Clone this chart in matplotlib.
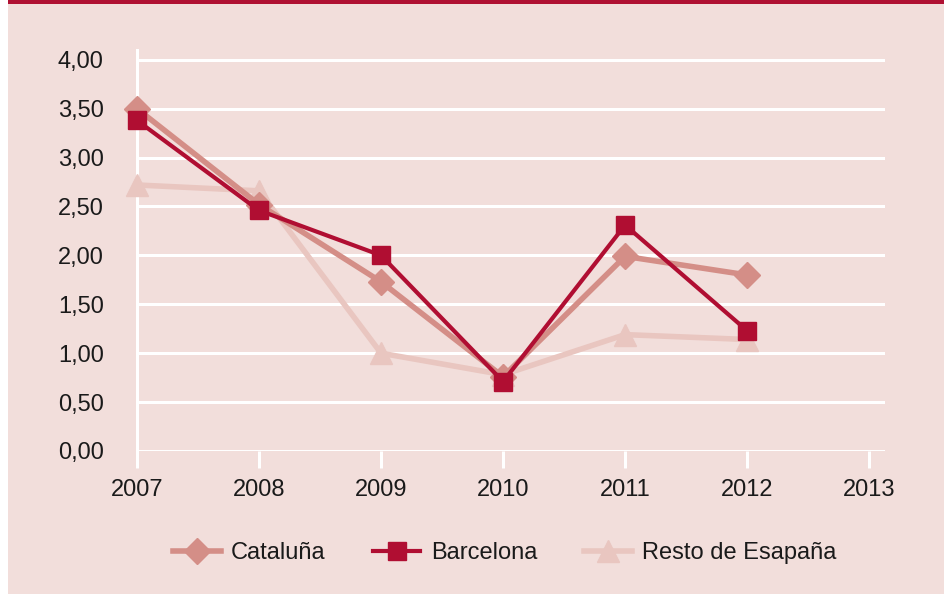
import matplotlib
matplotlib.use('Agg')
import matplotlib.pyplot as plt
from matplotlib.patches import Rectangle

years = [2007, 2008, 2009, 2010, 2011, 2012]
cataluna = [3.50, 2.52, 1.73, 0.76, 1.99, 1.80]
barcelona = [3.38, 2.46, 2.00, 0.71, 2.31, 1.23]
resto = [2.72, 2.66, 1.00, 0.78, 1.19, 1.14]
xticks = [2007, 2008, 2009, 2010, 2011, 2012, 2013]
yticks = [0, 0.5, 1.0, 1.5, 2.0, 2.5, 3.0, 3.5, 4.0]

plt.rcParams['font.family'] = ['Liberation Sans', 'DejaVu Sans']

BG = '#f2dedb'
fig = plt.figure(figsize=(9.44, 5.94), dpi=100)
fig.patch.set_facecolor('white')
# pink panel + red top bar
fig.patches.append(Rectangle((8 / 944, 0), 1, 1, transform=fig.transFigure, facecolor=BG, edgecolor='none', zorder=-2))
fig.patches.append(Rectangle((8 / 944, 1 - 4 / 594), 1, 4 / 594, transform=fig.transFigure, facecolor='#b01032', edgecolor='none', zorder=-1))

ax = fig.add_axes([137 / 944, 143 / 594, 748 / 944, 401 / 594])
ax.set_facecolor('none')

ax.plot(years, resto, color='#e9c6c0', lw=4, marker='^', ms=16, clip_on=False, zorder=3, label='Resto de Esapaña')
ax.plot(years, cataluna, color='#d48e87', lw=4, marker='D', ms=13, clip_on=False, zorder=4, label='Cataluña')
ax.plot(years, barcelona, color='#b00e32', lw=3, marker='s', ms=13, clip_on=False, zorder=5, label='Barcelona')

ax.set_xlim(2007, 2013.13)
ax.set_ylim(0, 4.1)
ax.set_yticks(yticks)
ax.set_yticklabels([('%.2f' % v).replace('.', ',') for v in yticks])
ax.set_xticks(xticks)
ax.set_xticklabels([str(x) for x in xticks])

for v in yticks:
    ax.axhline(v, color='white', lw=2.2, zorder=1)
for s in ['top', 'right', 'bottom']:
    ax.spines[s].set_visible(False)
ax.spines['left'].set_color('white')
ax.spines['left'].set_linewidth(2.2)
ax.tick_params(axis='y', length=0, pad=24, labelsize=17, labelcolor='#1a1a1a')
ax.tick_params(axis='x', length=12, width=2.2, color='white', pad=8, labelsize=17, labelcolor='#1a1a1a')

handles, labels = ax.get_legend_handles_labels()
order = [1, 2, 0]
leg = fig.legend([handles[i] for i in order], [labels[i] for i in order],
                 loc='center', bbox_to_anchor=(505 / 944, 1 - 553 / 594), ncol=3, frameon=False,
                 fontsize=17, handlelength=2.0, columnspacing=2.0, handletextpad=0.45,
                 labelcolor='#1a1a1a')

fig.savefig('out.png', dpi=100, facecolor=fig.get_facecolor())
